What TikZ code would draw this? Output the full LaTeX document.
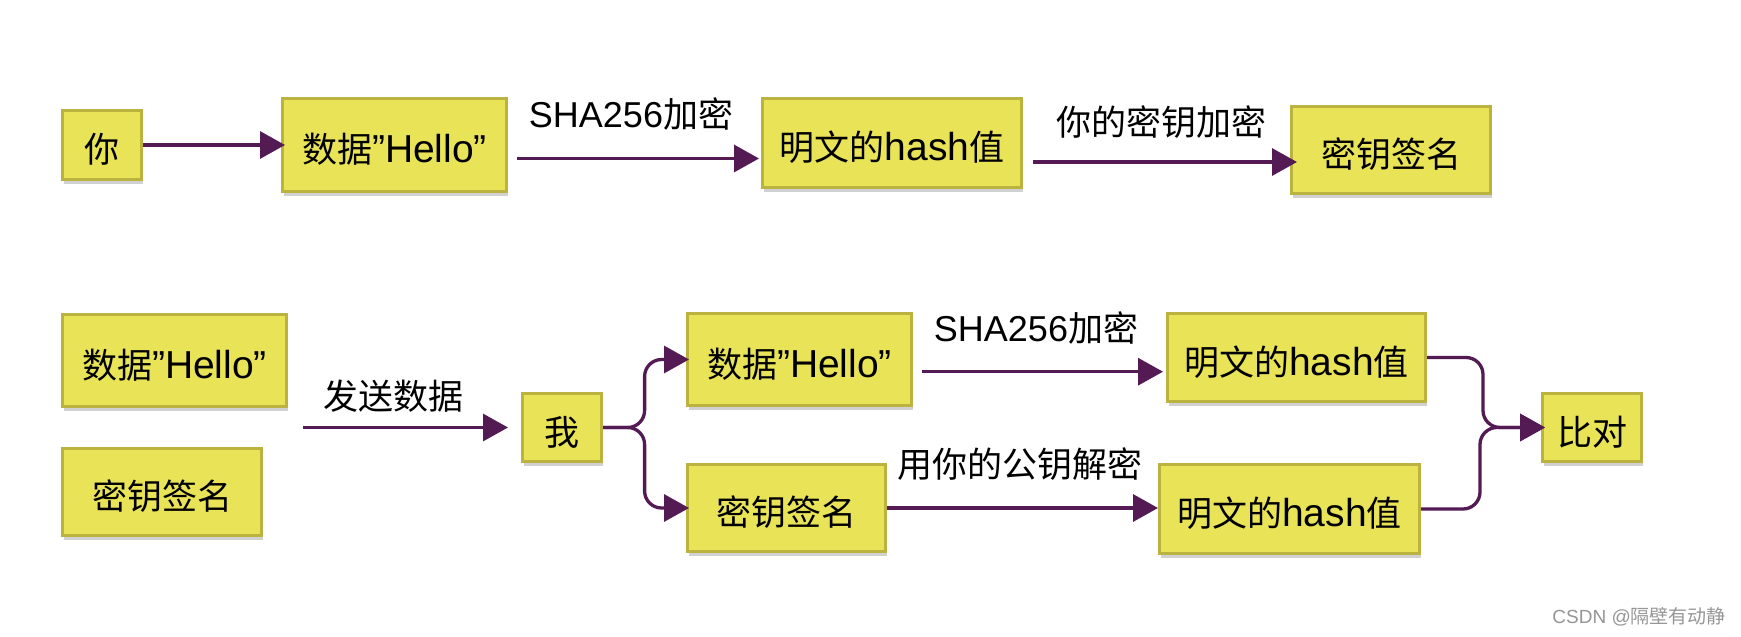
\documentclass[tikz,border=0pt]{standalone}
\usepackage{fontspec}
\setmainfont{Noto Sans CJK SC}
\newfontfamily\lat{Liberation Sans}
\usetikzlibrary{arrows.meta,shadows}
\definecolor{boxfill}{RGB}{233,227,88}
\definecolor{boxline}{RGB}{186,179,64}
\definecolor{arrowc}{RGB}{84,26,84}
\definecolor{wmark}{RGB}{150,150,150}
\newcommand\BL[1]{{\lat\fontsize{39}{44}\selectfont #1}}
\newcommand\LL[1]{{\lat\fontsize{36}{42}\selectfont #1}}
\begin{document}
\begin{tikzpicture}[x=1pt,y=-1pt,
  box/.style={draw=boxline, line width=3pt, fill=boxfill, inner sep=0pt,
    font=\fontsize{35}{42}\selectfont, text height=42pt, text depth=7pt,
    drop shadow={shadow xshift=1pt, shadow yshift=-4pt, opacity=0.18, fill=black}},
  lab/.style={anchor=base, inner sep=0pt, font=\fontsize{35}{42}\selectfont},
  arr/.style={draw=arrowc, line width=3.3pt, -{Triangle[length=25pt,width=27pt]}, rounded corners=17pt},
]
\useasboundingbox (0,0) rectangle (1741,637);
\fill[white] (0,0) rectangle (1741,637);

% top row
\node[box, minimum width=79pt, minimum height=69pt] (ni) at (102,145) {你};
\node[box, minimum width=224pt, minimum height=93pt] (d1) at (394.5,145) {数据\BL{”Hello”}};
\node[box, minimum width=259pt, minimum height=89pt] (h1) at (892,143) {明文的\BL{hash}值};
\node[box, minimum width=199pt, minimum height=87pt] (s1) at (1391,150) {密钥签名};

% bottom
\node[box, minimum width=224pt, minimum height=92pt] (d2) at (174.5,360.5) {数据\BL{”Hello”}};
\node[box, minimum width=199pt, minimum height=87pt] (s2) at (162,492) {密钥签名};
\node[box, minimum width=79pt, minimum height=68pt] (wo) at (562,427.5) {我};
\node[box, minimum width=224pt, minimum height=92pt] (d3) at (799.5,359.5) {数据\BL{”Hello”}};
\node[box, minimum width=198pt, minimum height=87pt] (s3) at (786.5,508) {密钥签名};
\node[box, minimum width=258pt, minimum height=88pt] (h2) at (1296.5,357.5) {明文的\BL{hash}值};
\node[box, minimum width=260pt, minimum height=89pt] (h3) at (1289.5,509) {明文的\BL{hash}值};
\node[box, minimum width=99pt, minimum height=68pt] (bd) at (1592,427.5) {比对};

% labels
\node[lab] (l1) at (631,127) {\LL{SHA256}加密};
\node[lab] (l2) at (1161,135.5) {你的密钥加密};
\node[lab] (l3) at (393.5,409.5) {发送数据};
\node[lab] (l4) at (1036,341) {\LL{SHA256}加密};
\node[lab] (l5) at (1020,477.5) {用你的公钥解密};

% connectors
\draw[arr] (ni.east) -- ([xshift=4pt]d1.west);
\draw[arr] ([xshift=9pt,yshift=-13.5pt]d1.east) -- ([xshift=-2pt,yshift=-15.5pt]h1.west);
\draw[arr] ([xshift=10pt,yshift=-19pt]h1.east) -- ([xshift=7pt,yshift=-12pt]s1.west);
\coordinate (snd) at ([xshift=-218pt]wo.west);
\draw[arr] (snd) -- ([xshift=-13pt]wo.west);
\draw[arr] (wo.east) -- ++(41.6,0) |- ([xshift=3pt]d3.west);
\draw[arr] (wo.east) -- ++(41.6,0) |- ([xshift=3pt]s3.west);
\draw[arr] ([xshift=9pt,yshift=-12.2pt]d3.east) -- ([xshift=-3pt,yshift=-14.2pt]h2.west);
\draw[arr] (s3.east) -- (s3.east -| h3.west);
\draw[arr] (h2.east) -- ++(56,0) |- ([xshift=4pt]bd.west);
\draw[arr] (h3.east) -- ++(59,0) |- ([xshift=4pt]bd.west);

% watermark
\node[anchor=base east, inner sep=0pt, text=wmark, font=\fontsize{19}{22}\selectfont] (wm) at (1726,623) {{\lat CSDN @}隔壁有动静};
\end{tikzpicture}
\end{document}
